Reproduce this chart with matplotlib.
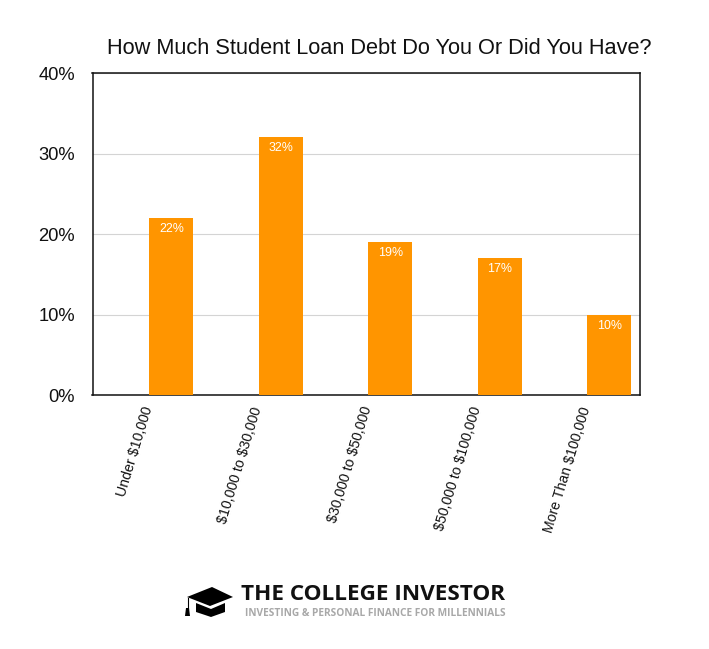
import matplotlib
matplotlib.use("Agg")
import matplotlib.pyplot as plt
from matplotlib.patches import Polygon
from matplotlib.transforms import Affine2D

categories = ["Under \\$10,000", "\\$10,000 to \\$30,000", "\\$30,000 to \\$50,000", "\\$50,000 to \\$100,000", "More Than \\$100,000"]
values = [22, 32, 19, 17, 10]
y_ticks = [0, 10, 20, 30, 40]

W, H = 709, 649
plt.rcParams["font.family"] = ["Liberation Sans", "DejaVu Sans"]

fig = plt.figure(figsize=(W / 100, H / 100), dpi=100)
ax = fig.add_axes([92.5 / W, 1 - 395.2 / H, (640 - 92.5) / W, (395.2 - 73) / H])

x = range(len(values))
ax.bar(x, values, width=0.4, color="#ff9500", zorder=3)
ax.set_xlim(-0.72, 4.28)
ax.set_ylim(0, 40)

ax.set_yticks(y_ticks)
ax.set_yticklabels([f"{v}%" for v in y_ticks], fontsize=13.2, color="#111111")
ax.grid(axis="y", color="#d4d4d4", lw=0.8, zorder=0)
ax.tick_params(axis="both", length=0, pad=12.5)
ax.set_xticks([])
for s in ax.spines.values():
    s.set_linewidth(1.1)
    s.set_color("#111111")

# value labels inside the bars
for i, v in enumerate(values):
    ax.annotate(f"{v}%", (i, v), xytext=(0, -3.5), textcoords="offset points",
                ha="center", va="top", color="white", fontsize=8.9)

# slanted category labels, hanging from their top right end
for i, c in enumerate(categories):
    ax.annotate(c, (i, 0), xytext=(-21.5, -7), textcoords="offset points",
                ha="right", va="top", rotation=73, rotation_mode="anchor",
                fontsize=10.15, color="#111111", annotation_clip=False)

fig.text(379.5 / W, 1 - 48.5 / H, "How Much Student Loan Debt Do You Or Did You Have?",
         ha="center", va="center", fontsize=15.65, color="#111111")

# logo
px = Affine2D().scale(1, -1).translate(0, H)
cap_top = [(187, 597), (212, 587), (233, 597), (210, 606)]
cap_body = [(196, 603), (211, 609), (225, 603), (225, 612), (211, 617), (196, 612)]
tassel = [(186, 608), (189, 608), (190, 616), (185, 616)]
for pts in (cap_top, cap_body, tassel):
    fig.add_artist(Polygon(pts, closed=True, color="black", lw=0, transform=px))
fig.add_artist(plt.Line2D([187.5, 187.5], [598, 609], color="black", lw=0.8, transform=px))

fig.text(241 / W, 1 - 595 / H, "THE COLLEGE INVESTOR", ha="left", va="center",
         fontsize=16.2, fontweight="bold", color="#111111", family="Open Sans")
fig.text(245 / W, 1 - 613.5 / H, "INVESTING & PERSONAL FINANCE FOR MILLENNIALS", ha="left", va="center",
         fontsize=7.3, fontweight="bold", color="#a8a8a8", family="Open Sans")

fig.savefig("out.png", dpi=100)
